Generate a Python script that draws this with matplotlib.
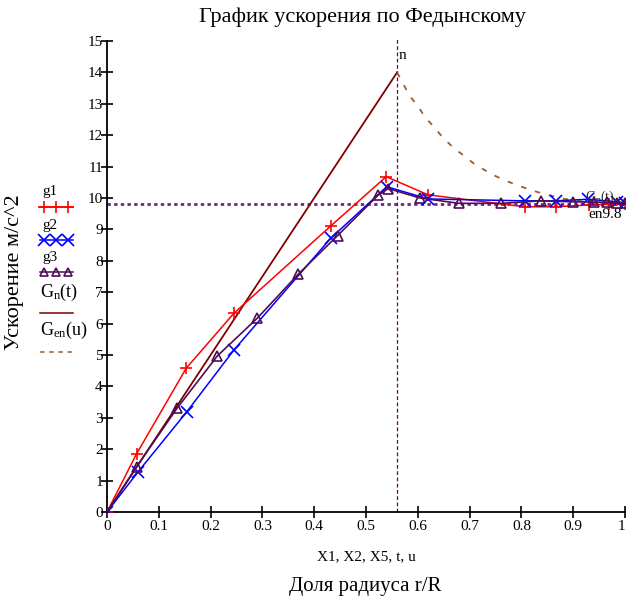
import matplotlib
matplotlib.use("Agg")
import matplotlib.pyplot as plt
from matplotlib.lines import Line2D

plt.rcParams["font.family"] = ["Liberation Serif", "DejaVu Serif"]

# ── data ─────────────────────────────────────────────────────────────────────
x1 = [0, 0.057, 0.153, 0.245, 0.432, 0.539, 0.620, 0.806, 0.867, 0.93, 0.97, 1.0]
g1 = [0, 1.85, 4.58, 6.33, 9.11, 10.68, 10.10, 9.72, 9.72, 9.78, 9.80, 9.80]

x2 = [0, 0.060, 0.154, 0.245, 0.432, 0.540, 0.620, 0.806, 0.867, 0.929, 0.984, 1.0]
g2 = [0, 1.28, 3.19, 5.16, 8.72, 10.36, 9.97, 9.91, 9.91, 9.96, 9.88, 9.85]

x5 = [0, 0.057, 0.135, 0.213, 0.290, 0.369, 0.445, 0.524, 0.543, 0.604, 0.680,
      0.761, 0.838, 0.899, 0.94, 0.965, 0.985, 1.0]
g3 = [0, 1.44, 3.30, 4.97, 6.17, 7.57, 8.80, 10.10, 10.30, 10.00, 9.83,
      9.83, 9.91, 9.88, 9.87, 9.86, 9.84, 9.83]

t  = [0, 0.1, 0.2, 0.3, 0.4, 0.5, 0.56]
Gn = [0, 2.5, 5.0, 7.5, 10.0, 12.5, 14.0]

u   = [0.56, 0.573, 0.584, 0.600, 0.614, 0.631, 0.648, 0.667, 0.687, 0.708,
       0.730, 0.750, 0.770, 0.790, 0.810, 0.835, 0.860, 0.880, 0.920, 0.960, 1.0]
Gen = [14.0, 13.60, 13.26, 12.93, 12.57, 12.27, 11.93, 11.63, 11.37, 11.10,
       10.88, 10.70, 10.55, 10.42, 10.30, 10.17, 10.06, 9.98, 9.88, 9.83, 9.80]

n_mark  = 0.56   # vertical marker
en_mark = 9.8    # horizontal marker

xticks = [0, 0.1, 0.2, 0.3, 0.4, 0.5, 0.6, 0.7, 0.8, 0.9, 1]
xtick_labels = ["0", "0.1", "0.2", "0.3", "0.4", "0.5", "0.6", "0.7", "0.8", "0.9", "1"]
yticks = list(range(0, 16))

C_G1, C_G2, C_G3 = "#ff0000", "#0000ff", "#4d0d57"
C_GN, C_GEN = "#800000", "#9b5e2a"
C_MARK = "#6a2a78"

# ── plot ──────────────────────────────────────────────────────────────────────
fig = plt.figure(figsize=(6.27, 6.0), dpi=100)
ax = fig.add_axes([107 / 627, 1 - 512 / 600, 518 / 627, 471 / 600])

ax.axvline(n_mark, ymax=15.1 / 15, color="#660066", lw=0.9, ls=(0, (3, 2)),
           zorder=1, clip_on=False)
ax.axhline(en_mark, color=C_MARK, lw=2.0, ls=(0, (1.2, 1.2)), zorder=1)

ax.plot(t, Gn, color=C_GN, lw=1.3, zorder=2)
ax.plot(u, Gen, color=C_GEN, lw=1.3, ls=(0, (3, 5)), zorder=2)
ax.plot(x1, g1, color=C_G1, lw=1.1, marker="+", ms=9, mew=1.2, zorder=3)
ax.plot(x2, g2, color=C_G2, lw=1.1, marker="x", ms=8, mew=1.2, zorder=3)
ax.plot(x5, g3, color=C_G3, lw=1.2, marker="^", ms=7, mew=1.2,
        mfc="none", zorder=4)

ax.set_xlim(0, 1)
ax.set_ylim(0, 15)
ax.set_xticks(xticks)
ax.set_xticklabels(xtick_labels)
ax.get_xticklabels()[-1].set_horizontalalignment("right")
ax.set_yticks(yticks)
ax.spines["top"].set_visible(False)
ax.spines["right"].set_visible(False)
ax.spines["left"].set_linewidth(1.3)
ax.spines["bottom"].set_linewidth(1.3)
ax.tick_params(direction="inout", length=8, width=1.2, labelsize=11)
ax.tick_params(axis="y", pad=-1)
ax.tick_params(axis="x", pad=2)

ax.text(n_mark + 0.002, 14.55, "n", fontsize=11, ha="left", va="center")
ax.text(0.962, 9.48, "en9.8", fontsize=11, ha="center", va="center")
ax.text(0.952, 10.02, r"$\mathregular{G_n(t)}$", fontsize=10, ha="center",
        va="center", color="#333333")

fig.text(362 / 627, 1 - 17 / 600, "График ускорения по Федынскому",
         fontsize=16, ha="center", va="center")
ax.set_xlabel("X1, X2, X5, t, u", fontsize=11, labelpad=12)
fig.text(365 / 627, 1 - 587 / 600, "Доля радиуса r/R", fontsize=15,
         ha="center", va="center")
fig.text(15 / 627, 1 - 272 / 600, "Ускорение м/с^2", fontsize=16,
         rotation=90, ha="center", va="center")

# ── legend (left, outside the axes, Mathcad style) ───────────────────────────
def px(x, y):
    return x / 627, 1 - y / 600

legend_items = [
    ("g1", C_G1, "-", "+", 207, 191),
    ("g2", C_G2, "-", "x", 240, 225),
    ("g3", C_G3, "-", "^", 272, 258),
    (r"$\mathregular{G_n(t)}$", C_GN, "-", None, 313, 292),
    (r"$\mathregular{G_{en}(u)}$", C_GEN, (0, (3, 3)), None, 352, 330),
]
for label, col, ls, mk, yl, yt in legend_items:
    xa, ya = px(40, yl)
    xb, _ = px(73, yl)
    fig.add_artist(Line2D([xa, xb], [ya, ya], color=col, lw=1.1, ls=ls))
    if mk is not None:
        xs = [px(44, yl)[0], px(56, yl)[0], px(68, yl)[0]]
        fig.add_artist(Line2D(xs, [ya] * 3, color=col, lw=0, marker=mk,
                              ms=8 if mk != "^" else 6, mew=1.2,
                              mfc="none"))
        fig.text(px(42, yt)[0], px(42, yt)[1], label, fontsize=11,
                 ha="left", va="center")
    else:
        fig.text(px(40, yt)[0], px(40, yt)[1], label, fontsize=13,
                 ha="left", va="center")

plt.savefig("out.png", dpi=100, facecolor="white")
